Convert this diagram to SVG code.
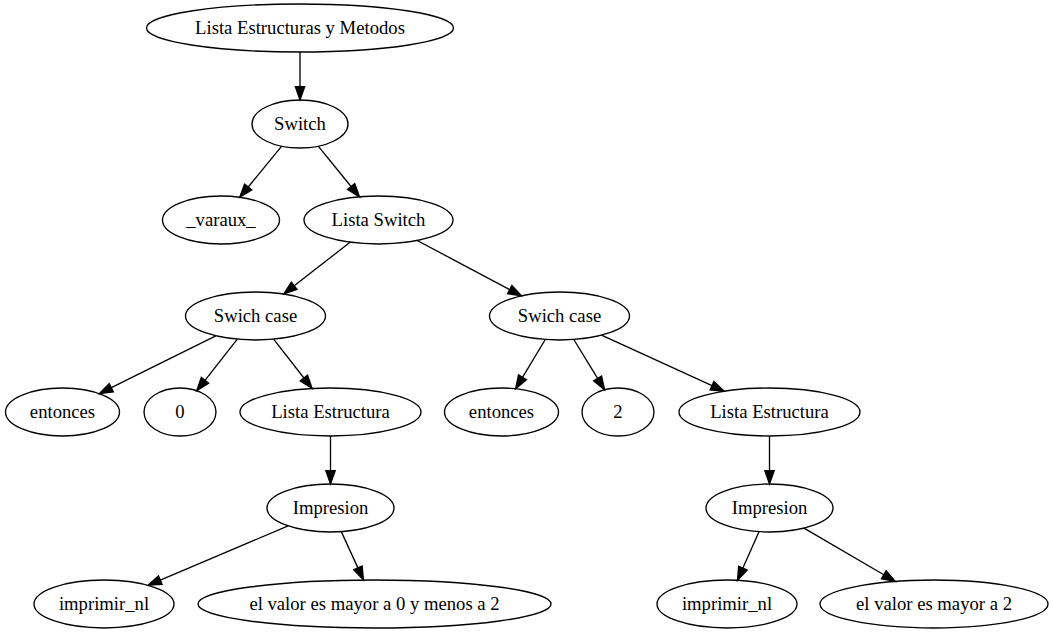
<svg xmlns="http://www.w3.org/2000/svg" width="1054" height="635" viewBox="0 0 1054 635">
  <style>
    .node ellipse { fill: none; stroke: #000; stroke-width: 1.33; }
    .node text { font-family: "Liberation Serif", "Times New Roman", serif; font-size: 18.67px; text-anchor: middle; fill: #000; }
    .edges line { stroke: #000; stroke-width: 1.33; marker-end: url(#arrow); }
  </style>
  <defs>
    <marker id="arrow" markerUnits="userSpaceOnUse" markerWidth="16" markerHeight="12" refX="0" refY="4.67" orient="auto" overflow="visible">
      <path d="M0,0 L13.33,4.67 L0,9.33 Z" fill="#000" stroke="#000" stroke-width="1.33"/>
    </marker>
  </defs>
  <rect width="1054" height="635" fill="#fff"/>

  <g class="edges" id="connectors">
    <line x1="300" y1="52" x2="300" y2="86.7"/>
    <line x1="281.7" y1="146.2" x2="248.2" y2="187.0"/>
    <line x1="318.2" y1="146.2" x2="351.1" y2="186.5"/>
    <line x1="350.1" y1="242.2" x2="294.2" y2="285.8"/>
    <line x1="417.2" y1="240.5" x2="509.7" y2="289.6"/>
    <line x1="215.8" y1="335.8" x2="111.3" y2="387.7"/>
    <line x1="237.3" y1="339.2" x2="205.0" y2="380.3"/>
    <line x1="273.6" y1="339.2" x2="303.9" y2="378.0"/>
    <line x1="545.3" y1="339.5" x2="522.5" y2="377.3"/>
    <line x1="573.8" y1="339.5" x2="597.6" y2="378.4"/>
    <line x1="601.5" y1="335.2" x2="712.0" y2="385.7"/>
    <line x1="330.5" y1="436" x2="330.5" y2="470.7"/>
    <line x1="769.5" y1="436" x2="769.5" y2="470.7"/>
    <line x1="288.2" y1="525.9" x2="160.3" y2="580.1"/>
    <line x1="341.3" y1="531.6" x2="357.9" y2="567.9"/>
    <line x1="759.0" y1="531.7" x2="742.9" y2="568.1"/>
    <line x1="804.0" y1="528.1" x2="883.8" y2="574.7"/>
  </g>

  <g class="node" id="n-root"><ellipse cx="300" cy="28" rx="153.5" ry="24"/><text x="300" y="34">Lista Estructuras y Metodos</text></g>
  <g class="node" id="n-switch"><ellipse cx="300" cy="124" rx="48" ry="24"/><text x="300" y="130">Switch</text></g>
  <g class="node" id="n-varaux"><ellipse cx="221" cy="220" rx="58.5" ry="24"/><text x="221" y="226">_varaux_</text></g>
  <g class="node" id="n-lista-switch"><ellipse cx="378.5" cy="220" rx="74.5" ry="24"/><text x="378.5" y="226">Lista Switch</text></g>
  <g class="node" id="n-case1"><ellipse cx="255.5" cy="316" rx="70" ry="24"/><text x="255.5" y="322">Swich case</text></g>
  <g class="node" id="n-case2"><ellipse cx="559.5" cy="316" rx="70" ry="24"/><text x="559.5" y="322">Swich case</text></g>
  <g class="node" id="n-entonces1"><ellipse cx="62.5" cy="412" rx="57" ry="24"/><text x="62.5" y="418">entonces</text></g>
  <g class="node" id="n-val0"><ellipse cx="180" cy="412" rx="36" ry="24"/><text x="180" y="418">0</text></g>
  <g class="node" id="n-le1"><ellipse cx="330.5" cy="412" rx="90.5" ry="24"/><text x="330.5" y="418">Lista Estructura</text></g>
  <g class="node" id="n-entonces2"><ellipse cx="501.5" cy="412" rx="57" ry="24"/><text x="501.5" y="418">entonces</text></g>
  <g class="node" id="n-val2"><ellipse cx="618" cy="412" rx="36" ry="24"/><text x="618" y="418">2</text></g>
  <g class="node" id="n-le2"><ellipse cx="769.5" cy="412" rx="90.5" ry="24"/><text x="769.5" y="418">Lista Estructura</text></g>
  <g class="node" id="n-imp1"><ellipse cx="330.5" cy="508" rx="63.5" ry="24"/><text x="330.5" y="514">Impresion</text></g>
  <g class="node" id="n-imp2"><ellipse cx="769.5" cy="508" rx="63.5" ry="24"/><text x="769.5" y="514">Impresion</text></g>
  <g class="node" id="n-nl1"><ellipse cx="104" cy="604" rx="70" ry="24"/><text x="104" y="610">imprimir_nl</text></g>
  <g class="node" id="n-msg1"><ellipse cx="374.5" cy="604" rx="176.5" ry="24"/><text x="374.5" y="610">el valor es mayor a 0 y menos a 2</text></g>
  <g class="node" id="n-nl2"><ellipse cx="727" cy="604" rx="70" ry="24"/><text x="727" y="610">imprimir_nl</text></g>
  <g class="node" id="n-msg2"><ellipse cx="934" cy="604" rx="114" ry="24"/><text x="934" y="610">el valor es mayor a 2</text></g>
</svg>
